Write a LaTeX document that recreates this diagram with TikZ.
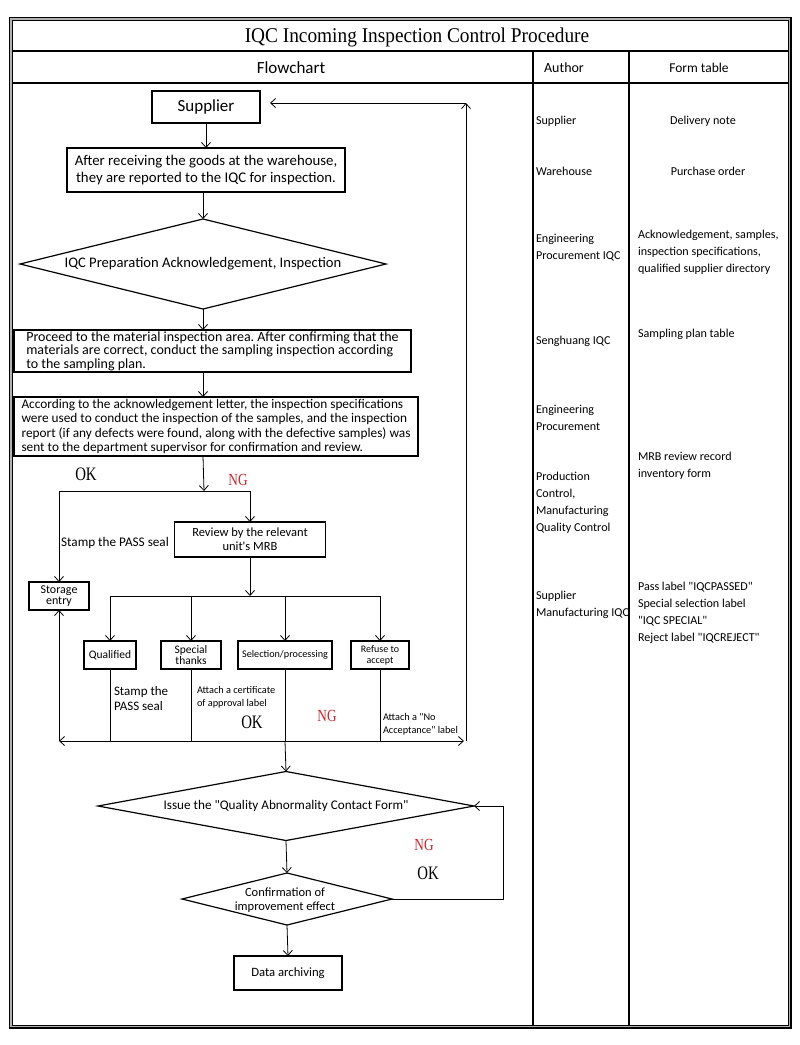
\documentclass[tikz,border=0pt]{standalone}
\usepackage{fontspec}
\setmainfont{Carlito}[Ligatures=TeXOff]
\newfontfamily\seriff{Liberation Serif}[Ligatures=TeXOff]
\usetikzlibrary{shapes.geometric,arrows.meta}
\definecolor{ngred}{RGB}{205,35,45}
\newcommand\fsz[2]{\fontsize{#1}{#2}\selectfont}
\newcommand\narrow[1]{\scalebox{0.78}[1]{#1}}
\frenchspacing
\begin{document}
\begin{tikzpicture}[x=1pt,y=-1pt,
  every node/.style={inner sep=0pt, outer sep=0pt},
  box/.style={draw, line width=1.4pt, align=center},
  dia/.style={draw, diamond, line width=1.2pt},
  arr/.style={line width=0.8pt, -{Straight Barb[length=5pt,width=9pt]}},
  ln/.style={line width=0.8pt},
  okt/.style={font=\seriff\fsz{19}{19}},
  ngt/.style={font=\seriff\fsz{17}{17}, text=ngred},
  side/.style={font=\fsz{12.1}{17}, align=left, anchor=west}
]
\useasboundingbox (0,0) rectangle (800,1045);
% frame
\draw[gray!60, line width=3pt] (11,19) rectangle (789.5,1026.5);
\draw[line width=1.2pt] (9.5,17.5) rectangle (791,1028);
\draw[line width=1pt] (12.5,20.5) rectangle (788,1025);
\draw[line width=1.5pt] (12.5,51) -- (788,51);
\draw[line width=1.5pt] (12.5,83) -- (788,83);
\draw[line width=1.3pt] (533,51) -- (533,1025);
\draw[line width=1.3pt] (629,51) -- (629,1025);
% headers
\node[font=\seriff\fsz{21}{22}] (title) at (417,37) {\scalebox{0.92}[1]{IQC Incoming Inspection Control Procedure}};
\node[font=\fsz{17}{19}] (hflow) at (291,68) {Flowchart};
\node[font=\fsz{14}{15}] (hauth) at (564,68) {Author};
\node[font=\fsz{13.5}{15}] (hform) at (699,68) {Form table};
% flow nodes
\node[box, line width=1.8pt, minimum width=108pt, minimum height=32pt, font=\fsz{17}{19}] (sup) at (206,107) {Supplier};
\node[box, minimum width=278pt, minimum height=44pt, font=\fsz{14.8}{17}] (recv) at (206,170) {After receiving the goods at the warehouse,\\they are reported to the IQC for inspection.};
\node[dia, minimum width=366pt, minimum height=90pt] (d1) at (203,264) {};
\node[font=\fsz{14.6}{16}] (d1t) at (d1) {IQC Preparation Acknowledgement, Inspection};
\node[box, minimum width=397pt, minimum height=42pt, align=left, font=\fsz{14}{13.4}] (insp) at (212.5,351) {Proceed to the material inspection area. After confirming that the\\materials are correct, conduct the sampling inspection according\\to the sampling plan.};
\node[box, minimum width=404pt, minimum height=59pt, align=left, font=\fsz{13.3}{14.4}] (rep) at (216,426.5) {According to the acknowledgement letter, the inspection specifications\\were used to conduct the inspection of the samples, and the inspection\\report (if any defects were found, along with the defective samples) was\\sent to the department supervisor for confirmation and review.};
\coordinate (j1) at (204,491);
\coordinate (jL) at (59,491);
\coordinate (jR) at (250,491);
\node[okt] (ok1) at (86,474) {\narrow{OK}};
\node[ngt] (ng1) at (238,480) {\narrow{NG}};
\node[font=\fsz{13.2}{14}] (pass1) at (115,543) {Stamp the PASS seal};
\node[box, minimum width=151pt, minimum height=35pt, font=\fsz{12.5}{14}] (mrb) at (250,539.5) {Review by the relevant\\unit's MRB};
\node[box, line width=1.2pt, minimum width=60pt, minimum height=28pt, font=\fsz{12}{11.5}] (store) at (59,596) {Storage\\entry};
\coordinate (j2) at (250,596);
\coordinate (j2L) at (110,596);
\coordinate (j2R) at (380,596);
\node[box, line width=1.3pt, minimum width=52pt, minimum height=28pt, font=\fsz{11.5}{12}] (qual) at (110,655) {Qualified};
\node[box, line width=1.3pt, minimum width=60pt, minimum height=28pt, font=\fsz{11.5}{11.5}] (spec) at (191,655) {Special\\thanks};
\node[box, line width=1.3pt, minimum width=94pt, minimum height=28pt, font=\fsz{10.2}{12}] (sel) at (285,655) {Selection/processing};
\node[box, line width=1.3pt, minimum width=58pt, minimum height=28pt, font=\fsz{10}{11}] (ref) at (380,655) {Refuse to\\accept};
\node[anchor=west, align=left, font=\fsz{13}{15}] (pass2) at (114,699) {Stamp the\\PASS seal};
\node[anchor=west, align=left, font=\fsz{10.3}{12.5}] (cert) at (197,697) {Attach a certificate\\of approval label};
\node[okt] (ok2) at (252,722) {\narrow{OK}};
\node[ngt] (ng2) at (327,716) {\narrow{NG}};
\node[anchor=west, align=left, font=\fsz{10.3}{13}] (noacc) at (383,724) {Attach a "No\\Acceptance" label};
\coordinate (bL) at (59,741);
\coordinate (bR) at (464,741);
\coordinate (fb) at (466,741);
\coordinate (fbtop) at (466,103);
\coordinate (supin) at (270,103);
\node[dia, minimum width=376pt, minimum height=69pt] (d2) at (286,806) {};
\node[font=\fsz{13.2}{14}] (d2t) at (d2) {Issue the "Quality Abnormality Contact Form"};
\node[dia, minimum width=210pt, minimum height=52pt] (d3) at (287,899) {};
\node[font=\fsz{12.5}{14.5}, align=center] (d3t) at (285,900) {Confirmation of\\improvement effect};
\node[box, line width=1.2pt, minimum width=108pt, minimum height=34pt, font=\fsz{12.7}{14}] (data) at (288,973) {Data archiving};
\coordinate (lpB) at (503,899);
\coordinate (lpT) at (503,806);
\node[ngt] (ng3) at (424,845) {\narrow{NG}};
\node[okt] (ok3) at (428,873) {\narrow{OK}};
% connectors
\draw[arr] (sup) -- (recv);
\draw[arr] (recv.south -| d1.north) -- (d1.north);
\draw[arr] (d1.south) -- (d1.south |- insp.north);
\draw[arr] (d1.south |- insp.south) -- (d1.south |- rep.north);
\draw[arr] (d1.south |- rep.south) -- (j1);
\draw[ln] (jL) -- (jR);
\draw[arr] (jL) -- (store.north);
\draw[arr] (jR) -- (mrb.north);
\draw[arr] (mrb.south) -- (j2);
\draw[ln] (j2L) -- (j2R);
\draw[arr] (j2L) -- (qual.north);
\draw[arr] (spec.north |- j2) -- (spec.north);
\draw[arr] (sel.north |- j2) -- (sel.north);
\draw[arr] (j2R) -- (ref.north);
\draw[ln] (qual.south) -- (qual.south |- bL);
\draw[ln] (spec.south) -- (spec.south |- bL);
\draw[ln] (sel.south) -- (sel.south |- bL);
\draw[ln] (ref.south) -- (ref.south |- bL);
\draw[line width=0.8pt, {Straight Barb[length=5pt,width=9pt]}-{Straight Barb[length=5pt,width=9pt]}] (bL) -- (bR);
\draw[arr] (bL) -- (store.south);
\draw[arr] (fb) -- (fbtop);
\draw[arr] (fbtop) -- (supin);
\draw[arr] (sel.south |- bL) -- (d2.north);
\draw[arr] (d2.south) -- (d3.north);
\draw[arr] (d3.south) -- (data.north);
\draw[arr] (d3.east) -- (lpB) -- (lpT) -- (d2.east);
% author column
\node[side] (a1) at (536,121) {Supplier};
\node[side] (a2) at (536,171) {Warehouse};
\node[side] (a3) at (536,247.5) {Engineering\\Procurement IQC};
\node[side] (a4) at (536,341) {Senghuang IQC};
\node[side] (a5) at (536,417.5) {Engineering\\Procurement};
\node[side] (a6) at (536,502.5) {Production\\Control,\\Manufacturing\\Quality Control};
\node[side] (a7) at (536,604.5) {Supplier\\Manufacturing IQC};
% form column
\node[font=\fsz{12.1}{17}] (f1) at (703,121) {Delivery note};
\node[font=\fsz{12.1}{17}] (f2) at (708,171) {Purchase order};
\node[side] (f3) at (638,252.5) {Acknowledgement, samples,\\inspection specifications,\\qualified supplier directory};
\node[side] (f4) at (638,334) {Sampling plan table};
\node[side] (f5) at (638,465.5) {MRB review record\\inventory form};
\node[side] (f6) at (638,613) {Pass label "IQCPASSED"\\Special selection label\\"IQC SPECIAL"\\Reject label "IQCREJECT"};
\end{tikzpicture}
\end{document}
